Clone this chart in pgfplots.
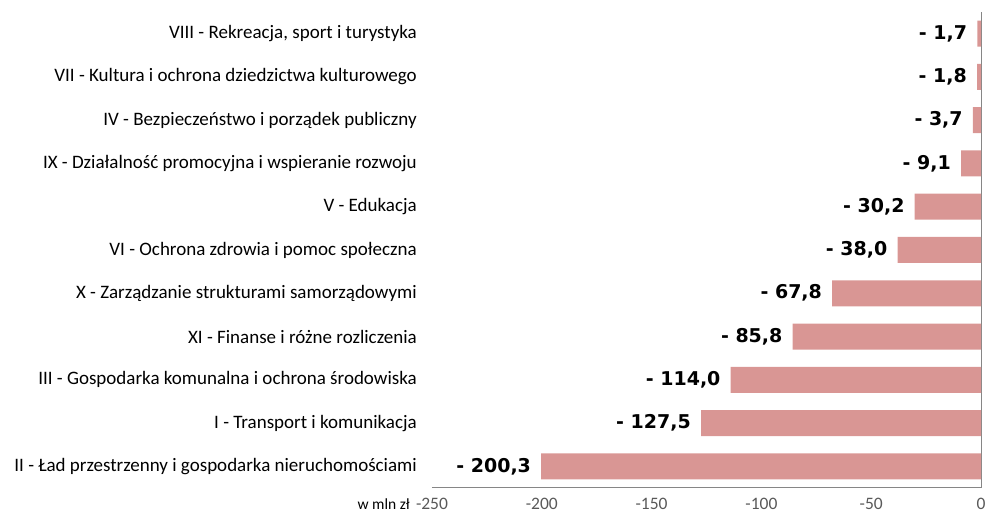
\documentclass[border=0pt]{standalone}
\usepackage{fontspec}
\setmainfont{Carlito}
\newfontfamily\valfont{DejaVu Sans}
\usepackage{pgfplots}
\pgfplotsset{compat=1.18}
\usepackage{pgfplotstable}
\definecolor{barpink}{RGB}{217,150,148}
\definecolor{axgray}{RGB}{134,134,134}
\definecolor{lblgray}{RGB}{89,89,89}

% idx = position from the bottom
\pgfplotstableread[col sep=comma]{
idx,val,lab
0,-200.3,{- 200,3}
1,-127.5,{- 127,5}
2,-114.0,{- 114,0}
3,-85.8,{- 85,8}
4,-67.8,{- 67,8}
5,-38.0,{- 38,0}
6,-30.2,{- 30,2}
7,-9.1,{- 9,1}
8,-3.7,{- 3,7}
9,-1.8,{- 1,8}
10,-1.7,{- 1,7}
}\wydatki

\begin{document}
\begin{tikzpicture}
\path[use as bounding box] (-432pt,-25pt) rectangle (555pt,488pt);
\begin{axis}[
  at={(0pt,0pt)}, anchor=south west,
  scale only axis, width=549pt, height=476pt,
  xbar, bar width=26pt,
  xmin=-250, xmax=0, ymin=-0.5, ymax=10.5,
  axis x line*=bottom, axis y line*=left,
  axis line style={axgray, line width=1pt},
  y axis line style={draw=none},
  xtick={-250,-200,-150,-100,-50,0},
  xticklabels={-250,-200,-150,-100,-50,0},
  extra x ticks={0}, extra x tick labels={},
  extra x tick style={grid=major, major grid style={axgray, line width=1pt}},
  xticklabel style={anchor=center, inner sep=0pt, yshift=-16pt, text=lblgray, font=\fontsize{17.5}{19}\selectfont},
  ytick={0,...,10},
  yticklabels={
    {II - Ład przestrzenny i gospodarka nieruchomościami},
    {I - Transport i komunikacja},
    {III - Gospodarka komunalna i ochrona środowiska},
    {XI - Finanse i różne rozliczenia},
    {X - Zarządzanie strukturami samorządowymi},
    {VI - Ochrona zdrowia i pomoc społeczna},
    {V - Edukacja},
    {IX - Działalność promocyjna i wspieranie rozwoju},
    {IV - Bezpieczeństwo i porządek publiczny},
    {VII - Kultura i ochrona dziedzictwa kulturowego},
    {VIII - Rekreacja, sport i turystyka}},
  yticklabel style={anchor=east, inner sep=0pt, xshift=-15pt, font=\fontsize{19}{21}\selectfont},
  major tick length=0pt,
  tick style={draw=none},
  clip=false,
  nodes near coords={\pgfplotspointmeta},
  point meta=explicit symbolic,
  every node near coord/.style={anchor=east, inner sep=0pt, xshift=-10pt, text=black, font=\valfont\bfseries\fontsize{19}{21}\selectfont},
]
\addplot[fill=barpink, draw=none] table[x=val, y=idx, meta=lab] {\wydatki};
\node[anchor=east, inner sep=0pt, font=\fontsize{15.5}{17}\selectfont] at ([xshift=-22pt,yshift=-16pt]rel axis cs:0,0) {w mln zł};
\end{axis}
\end{tikzpicture}
\end{document}
